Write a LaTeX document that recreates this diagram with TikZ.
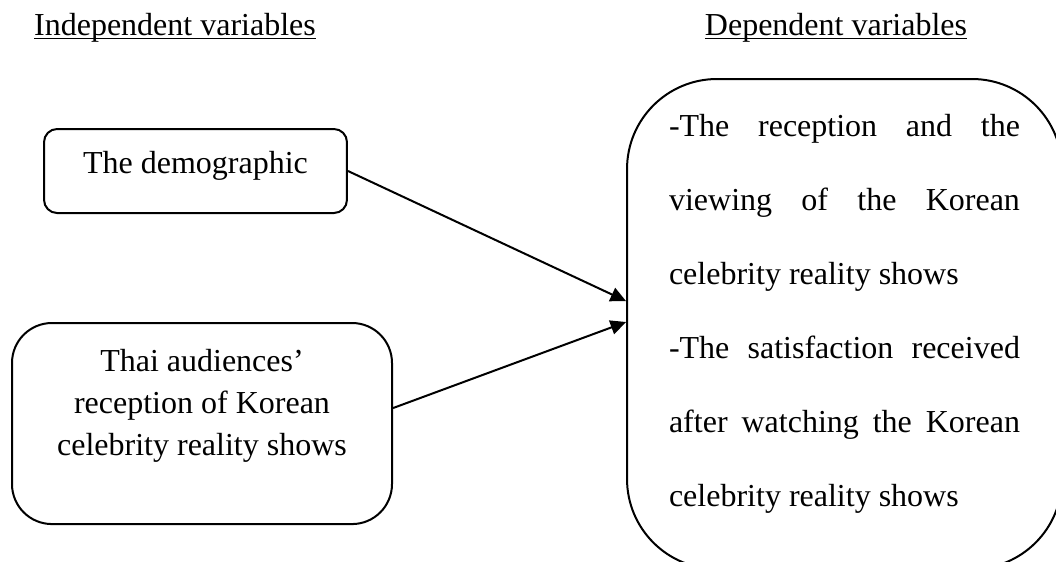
\documentclass[tikz,border=0pt]{standalone}
\usepackage{fontspec}
\setmainfont{Liberation Serif}
\usetikzlibrary{
    arrows.meta,   % Required for "Triangle" arrowheads
    positioning
}

% one justified line of the dependent box
\newcommand{\justline}[1]{\makebox[131.6pt][s]{#1}}

\begin{document}
\begin{tikzpicture}[
        x=0.375pt, y=-0.375pt,
        font=\fontsize{12}{15.75}\selectfont,
        % Styles
        heading/.style={inner sep=0pt, anchor=base},
        varbox/.style={draw=black, line width=0.75pt, inner xsep=0pt, inner ysep=0pt, anchor=north},
        link/.style={-{Triangle[length=5.8pt, width=5.4pt]}, line width=0.75pt}
    ]
    \clip (0,0) rectangle (1056,561);

    % --- Headings ---
    \node[heading] (IndepHead) at (175,35) {\underline{\smash{Independent variables}}};
    \node[heading] (DepHead) at (836,35) {\underline{\smash{Dependent variables}}};

    % --- 1. Independent variables ---
    \node[varbox, rounded corners=4.9pt, minimum width=113.6pt,
          text height=16.5pt, text depth=15pt] (Demo) at (195.5,128) {The demographic};

    \node[varbox, rounded corners=15pt, minimum width=142.5pt,
          text height=18pt, text depth=57.4pt] (Thai) at (202,322)
        {\begin{tabular}[t]{@{}c@{}}Thai audiences’\\ reception of Korean\\ celebrity reality shows\end{tabular}};

    % --- 2. Dependent variables ---
    % box runs past the right and bottom edges of the page
    \node[varbox, rounded corners=33.75pt, minimum width=163.1pt,
          text height=21.4pt, text depth=162.35pt,
          font=\fontsize{12}{27.75}\selectfont] (Dep) at (844.5,78)
        {\begin{tabular}[t]{@{}l@{}}
            \justline{-The reception and the}\\
            \justline{viewing of the Korean}\\
            celebrity reality shows\\
            \justline{-The satisfaction received}\\
            \justline{after watching the Korean}\\
            celebrity reality shows
        \end{tabular}};

    % --- 3. Links ---
    \draw[link] (Demo.east) -- ([yshift=8.6pt]Dep.west);
    \draw[link] ([yshift=5.8pt]Thai.east) -- ([yshift=0.75pt]Dep.west);

\end{tikzpicture}
\end{document}
